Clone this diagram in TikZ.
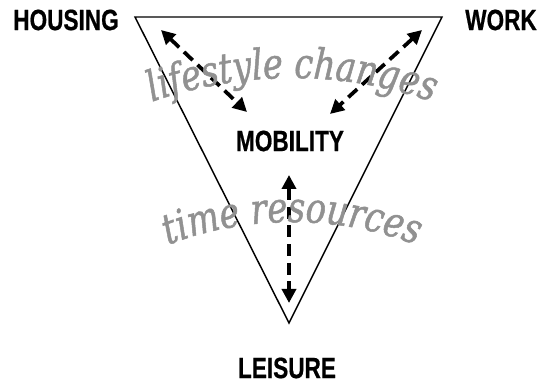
\documentclass[tikz,border=0pt]{standalone}
\usepackage{fontspec}
\usetikzlibrary{arrows.meta,decorations.text}
\newfontfamily\labfont[FakeStretch=0.77,FakeBold=0.6]{Liberation Sans}
\newfontfamily\arcfont[FakeStretch=0.8,FakeBold=1.2]{DejaVu Serif}
\definecolor{wordgray}{RGB}{145,145,145}
\tikzset{
  lab/.style={inner sep=0pt, anchor=center, font=\labfont\bfseries\fontsize{22}{25}\selectfont},
  tri/.style={draw=black, line width=1.1pt, line join=miter},
  dashlink/.style={line width=2.8pt, dash pattern=on 9pt off 5pt,
    {Triangle[length=10.5pt,width=10.5pt]}-{Triangle[length=10.5pt,width=10.5pt]}},
  arcword/.style={decorate, decoration={text along path,
    text={|\arcfont\itshape\fontsize{31.5}{36}\selectfont|#1},
    text align=center, text color=wordgray}}
}
\begin{document}
\begin{tikzpicture}[x=0.75pt,y=0.75pt]
\useasboundingbox (0,0) rectangle (554,384);
% triangle corners
\coordinate (tl) at (135,367);
\coordinate (tr) at (442,367);
\coordinate (ap) at (289,61);
\draw[tri] (tl) -- (tr) -- (ap) -- cycle;
% labels
\node[lab] (housing) at (66,364) {HOUSING};
\node[lab] (work) at (501,364) {WORK};
\node[lab] (mobility) at (290,243) {MOBILITY};
\node[lab] (leisure) at (287,16) {LEISURE};
% arrow ends
\coordinate (h1) at (161,354);
\coordinate (m1) at (247,272);
\coordinate (w1) at (422,354);
\coordinate (m2) at (330,270);
\coordinate (m3) at (289,209);
\coordinate (l3) at (289,81);
\draw[dashlink] (h1) -- (m1);
\draw[dashlink] (w1) -- (m2);
\draw[dashlink] (m3) -- (l3);
% arched words (circular baselines)
\coordinate (lsa) at ({292+425*cos(110)},{-119+425*sin(110)});
\path[arcword={lifestyle changes}] (lsa) arc[start angle=110, end angle=70, radius=425];
\coordinate (tra) at ({292+348*cos(113)},{-186+348*sin(113)});
\path[arcword={time resources}] (tra) arc[start angle=113, end angle=67, radius=348];
\end{tikzpicture}
\end{document}
